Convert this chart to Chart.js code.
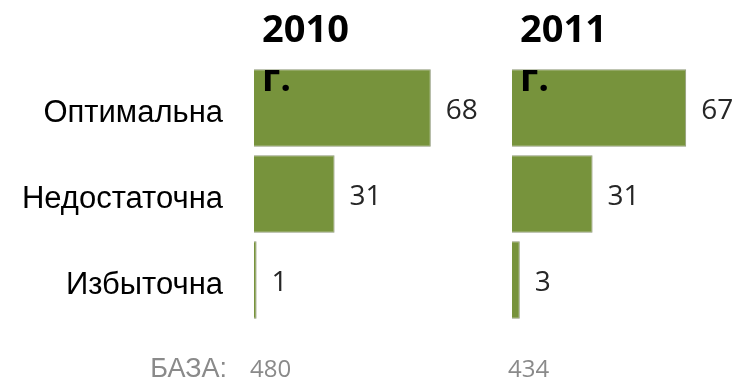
<!DOCTYPE html>
<html>
<head>
<meta charset="utf-8">
<script src="https://cdn.jsdelivr.net/npm/chart.js@4"></script>
<style>
html,body{margin:0;padding:0;background:#fff;overflow:hidden;width:739px;height:381px;}
.wrap{position:absolute;top:0;height:381px;}
</style>
</head>
<body>
<div class="wrap" id="w1" style="left:0;width:514px;"><canvas id="c1"></canvas></div>
<div class="wrap" id="w2" style="left:500px;width:274px;"><canvas id="c2"></canvas></div>
<script>
const categories = ["Оптимальна", "Недостаточна", "Избыточна"];
const values2010 = [68, 31, 1];
const values2011 = [67, 31, 3];
const titles = [["2010", "г."], ["2011", "г."]];
const baseLabel = "БАЗА:";
const bases = ["480", "434"];

const barColor = "#77933C";
const borderCol = "#8e9878";

function makePlugin(idx, showBaseLabel) {
  return {
    id: "deco" + idx,
    afterDatasetsDraw(chart) {
      const ctx = chart.ctx;
      const area = chart.chartArea;
      const meta = chart.getDatasetMeta(0);
      ctx.save();
      // value labels
      ctx.fillStyle = "#262626";
      ctx.font = "28px 'Open Sans'";
      ctx.textAlign = "left";
      ctx.textBaseline = "middle";
      meta.data.forEach((bar, i) => {
        ctx.fillText(String(chart.data.datasets[0].data[i]), bar.x + 15, bar.y + 3);
      });
      // titles
      ctx.fillStyle = "#000";
      ctx.font = "bold 38px 'Open Sans'";
      ctx.textBaseline = "alphabetic";
      ctx.fillText(titles[idx][0], area.left + 8, 42);
      ctx.fillText(titles[idx][1], area.left + 8, 91);
      // base
      ctx.fillStyle = "#8a8a8a";
      if (showBaseLabel) {
        ctx.font = "27px 'Liberation Sans'";
        ctx.textAlign = "right";
        ctx.fillText(baseLabel, area.left - 27, 377);
      }
      ctx.font = "24px 'Open Sans'";
      ctx.textAlign = "left";
      ctx.fillText(bases[idx], area.left - 4, 377);
      ctx.restore();
    }
  };
}

function makeChart(id, data, idx, showY, padLeft, padRight) {
  return new Chart(document.getElementById(id), {
    type: "bar",
    data: {
      labels: categories,
      datasets: [{
        data: data,
        backgroundColor: barColor,
        borderColor: borderCol,
        borderWidth: 1,
        barPercentage: 0.9,
        categoryPercentage: 1.0
      }]
    },
    options: {
      indexAxis: "y",
      responsive: true,
      maintainAspectRatio: false,
      animation: false,
      layout: { padding: { top: 65, bottom: 58, left: padLeft, right: padRight } },
      plugins: { legend: { display: false }, tooltip: { enabled: false }, title: { display: false } },
      scales: {
        x: { display: false, min: 0, max: 100 },
        y: {
          display: showY,
          grid: { display: false, drawTicks: false },
          border: { display: false },
          ticks: {
            color: "#000",
            padding: 31,
            labelOffset: 5,
            font: { family: "'Liberation Sans', Arial", size: 31 }
          },
          afterFit(scale) { if (showY) scale.width = 254; }
        }
      }
    },
    plugins: [makePlugin(idx, showY)]
  });
}

makeChart("c1", values2010, 0, true, 0, 0);
makeChart("c2", values2011, 1, false, 12, 2);
</script>
</body>
</html>
